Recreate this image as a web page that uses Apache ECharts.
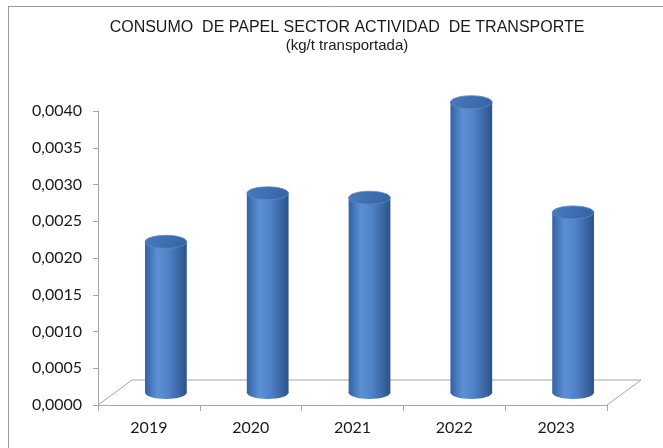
<!DOCTYPE html>
<html>
<head>
<meta charset="utf-8">
<script src="https://cdn.jsdelivr.net/npm/echarts@6/dist/echarts.min.js"></script>
<style>
html,body{margin:0;padding:0;background:#fff;}
#c{width:663px;height:448px;}
</style>
</head>
<body>
<div id="c"></div>
<script>
// ---- data ----
const categories = ['2019', '2020', '2021', '2022', '2023'];
const values = [0.00205, 0.00271, 0.00265, 0.00395, 0.00245];
const yMin = 0;
const yMax = 0.0040;
const yStep = 0.0005;
const titleText = 'CONSUMO  DE PAPEL SECTOR ACTIVIDAD  DE TRANSPORTE';
const subTitleText = '(kg/t transportada)';

// ---- layout / style ----
const DX = 34, DY = 25;            // depth offset of the 3D floor
const G = {left: 98, right: 56, top: 111, bottom: 43};
const axisGray = '#A6A6A6';

const chart = echarts.init(document.getElementById('c'), null, {renderer: 'canvas'});

function fmt(v) { return v.toFixed(4).replace('.', ','); }

const bodyGrad = () => new echarts.graphic.LinearGradient(0, 0, 1, 0, [
  {offset: 0, color: '#3262A2'},
  {offset: 0.3, color: '#5C90D5'},
  {offset: 0.55, color: '#5183C8'},
  {offset: 1, color: '#2B538B'}
]);
const topGrad = () => new echarts.graphic.LinearGradient(0, 0, 1, 1, [
  {offset: 0, color: '#487ABE'},
  {offset: 1, color: '#3463A3'}
]);

chart.setOption({
  animation: false,
  backgroundColor: '#fff',
  title: [
    {text: titleText, left: 347, top: 20, textAlign: 'center', padding: 0,
     textStyle: {fontFamily: 'Liberation Sans, Arial', fontSize: 16, fontWeight: 'normal', color: '#1a1a1a'}},
    {text: subTitleText, left: 347, top: 38, textAlign: 'center', padding: 0,
     textStyle: {fontFamily: 'Liberation Sans, Arial', fontSize: 15, fontWeight: 'normal', color: '#1a1a1a'}}
  ],
  graphic: [
    {type: 'line', shape: {x1: 8, y1: 6.5, x2: 663, y2: 6.5}, style: {stroke: '#9A9A9A', lineWidth: 1}},
    {type: 'line', shape: {x1: 8.5, y1: 6, x2: 8.5, y2: 448}, style: {stroke: '#9A9A9A', lineWidth: 1}}
  ],
  grid: [
    {left: G.left, right: G.right, top: G.top, bottom: G.bottom},
    {left: G.left + DX / 2, right: G.right - DX / 2, top: G.top - DY / 2, bottom: G.bottom + DY / 2}
  ],
  xAxis: [
    {type: 'category', gridIndex: 0, data: categories,
     axisLine: {lineStyle: {color: axisGray, width: 1}},
     axisTick: {show: true, length: 6, lineStyle: {color: axisGray}},
     axisLabel: {margin: 15, fontFamily: 'Lato', fontSize: 16, color: '#1a1a1a'},
     splitLine: {show: false}},
    {type: 'category', gridIndex: 1, data: categories, show: false}
  ],
  yAxis: [
    {type: 'value', gridIndex: 0, min: yMin, max: yMax, interval: yStep,
     axisLine: {show: true, lineStyle: {color: axisGray, width: 1}},
     axisTick: {show: true, length: 5, lineStyle: {color: axisGray}},
     axisLabel: {margin: 16, fontFamily: 'Lato', fontSize: 16, color: '#1a1a1a', formatter: fmt},
     splitLine: {show: false}},
    {type: 'value', gridIndex: 1, min: yMin, max: yMax, interval: yStep, show: false, splitLine: {show: false}}
  ],
  series: [
    {
      type: 'custom', xAxisIndex: 0, yAxisIndex: 0, z: 1, silent: true,
      data: [[0, 0]],
      renderItem: function (params) {
        const cs = params.coordSys;
        const by = cs.y + cs.height;
        return {
          type: 'polyline',
          shape: {points: [[cs.x, by], [cs.x + DX, by - DY], [cs.x + cs.width + DX, by - DY], [cs.x + cs.width, by]]},
          style: {stroke: axisGray, lineWidth: 1, fill: null}
        };
      }
    },
    {
      type: 'custom', xAxisIndex: 1, yAxisIndex: 1, z: 5,
      encode: {x: 0, y: 1},
      data: values.map((v, i) => [i, v]),
      renderItem: function (params, api) {
        const idx = api.value(0), v = api.value(1);
        const top = api.coord([idx, v]);
        const base = api.coord([idx, 0]);
        const bw = api.size([1, 0])[0] * 0.41;
        const rx = bw / 2, ry = 6.5;
        return {
          type: 'group',
          children: [
            {type: 'ellipse', shape: {cx: top[0], cy: base[1], rx: rx, ry: ry}, style: {fill: bodyGrad()}},
            {type: 'rect', shape: {x: top[0] - rx, y: top[1], width: bw, height: base[1] - top[1]}, style: {fill: bodyGrad()}},
            {type: 'ellipse', shape: {cx: top[0], cy: top[1], rx: rx, ry: ry},
             style: {fill: topGrad(), stroke: '#5C88C4', lineWidth: 0.8}}
          ]
        };
      }
    }
  ]
});
</script>
</body>
</html>
